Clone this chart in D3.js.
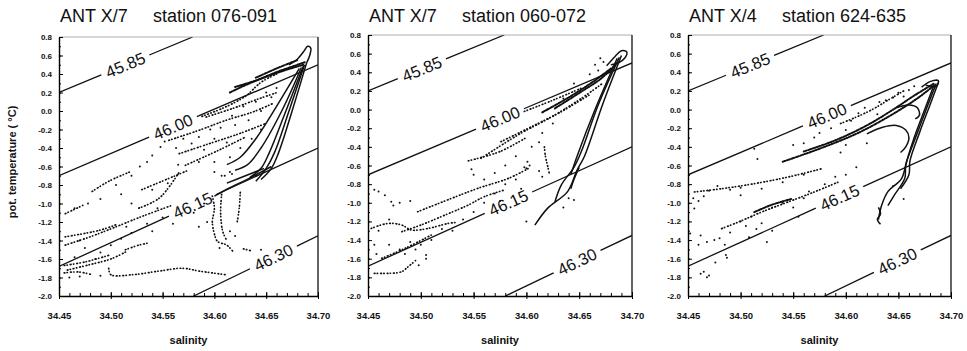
<!DOCTYPE html>
<html>
<head>
<meta charset="utf-8">
<script src="https://cdn.jsdelivr.net/npm/d3@7"></script>
<style>
  body { margin: 0; background: #fff; }
  svg text { font-family: "Liberation Sans", Arial, sans-serif; fill: #111; }
</style>
</head>
<body>
<svg id="chart" width="967" height="351"></svg>
<script>
// axis ranges and labels
var salDomain = [34.45, 34.70];
var tempDomain = [-2.0, 0.8];
var xTicks = [34.45, 34.50, 34.55, 34.60, 34.65, 34.70];
var yTicks = [-2.0, -1.8, -1.6, -1.4, -1.2, -1.0, -0.8, -0.6, -0.4, -0.2, 0.0, 0.2, 0.4, 0.6, 0.8];

var cruises = ["ANT X/7", "ANT X/7", "ANT X/4"];
var stations = ["station 076-091", "station 060-072", "station 624-635"];

// isopycnals (sigma-4), end points as [salinity, temperature]
var isoLevels = ["45.85", "46.00", "46.15", "46.30"];
var isoEnds = [
  [[34.45, 0.20], [34.579, 0.80]],
  [[34.45, -0.70], [34.70, 0.50]],
  [[34.45, -1.68], [34.70, -0.40]],
  [[34.58, -2.00], [34.70, -1.35]]
];
// where the label sits on each isopycnal (salinity), per panel
var isoLabelSal = [
  [34.514, 34.560, 34.579, 34.657],
  [34.501, 34.575, 34.583, 34.648],
  [34.509, 34.582, 34.594, 34.649]
];

// ---- panel 1: ANT X/7 station 076-091 ----
var p1Lines = [
  [[34.672,0.50],[34.680,0.56],[34.686,0.64],[34.690,0.70],[34.693,0.68],[34.692,0.60],[34.689,0.52]],
  [[34.689,0.52],[34.675,0.00],[34.662,-0.45],[34.655,-0.62],[34.645,-0.74]],
  [[34.687,0.50],[34.672,0.00],[34.658,-0.45],[34.650,-0.62],[34.640,-0.76]],
  [[34.686,0.49],[34.669,0.00],[34.653,-0.45],[34.645,-0.62],[34.634,-0.72]],
  [[34.684,0.47],[34.665,0.00],[34.645,-0.40],[34.632,-0.58],[34.620,-0.64]],
  [[34.682,0.46],[34.660,0.05],[34.640,-0.30],[34.625,-0.50],[34.612,-0.58]],
  [[34.655,-0.60],[34.635,-0.72],[34.615,-0.83],[34.600,-0.92]],
  [[34.648,-0.62],[34.630,-0.70],[34.612,-0.78]]
];
var p1Bands = [
  [[34.620,0.26],[34.640,0.33],[34.660,0.42],[34.675,0.48],[34.688,0.53]],
  [[34.615,0.20],[34.630,0.28],[34.650,0.37],[34.668,0.44],[34.686,0.50]],
  [[34.640,0.36],[34.660,0.46],[34.680,0.55]]
];
var p1Trails = [
  [[34.498,-1.70],[34.500,-1.77],[34.521,-1.77],[34.547,-1.73],[34.569,-1.70],[34.585,-1.73],[34.611,-1.77]],
  [[34.455,-1.75],[34.469,-1.74],[34.482,-1.77]],
  [[34.455,-1.67],[34.476,-1.63],[34.498,-1.56]],
  [[34.458,-1.72],[34.480,-1.66],[34.500,-1.60],[34.515,-1.52]],
  [[34.514,-1.50],[34.527,-1.45],[34.535,-1.43]],
  [[34.456,-1.45],[34.480,-1.36],[34.501,-1.27],[34.530,-1.14],[34.559,-1.02]],
  [[34.456,-1.36],[34.489,-1.29],[34.505,-1.23]],
  [[34.456,-1.11],[34.473,-1.02]],
  [[34.482,-0.87],[34.498,-0.76],[34.518,-0.66]],
  [[34.527,-1.05],[34.547,-0.94],[34.566,-0.66]],
  [[34.530,-0.85],[34.560,-0.71],[34.575,-0.64]],
  [[34.592,-0.065],[34.617,0.025],[34.643,0.133],[34.662,0.205]],
  [[34.556,-0.317],[34.585,-0.209],[34.611,-0.101],[34.637,-0.011],[34.656,0.079]],
  [[34.566,-0.461],[34.595,-0.353],[34.624,-0.245],[34.649,-0.137]],
  [[34.572,-0.587],[34.604,-0.425],[34.630,-0.281]],
  [[34.588,-0.058],[34.610,0.04],[34.630,0.16],[34.645,0.31],[34.660,0.40]],
  [[34.598,-0.92],[34.600,-1.05],[34.598,-1.20],[34.600,-1.33],[34.603,-1.41],[34.612,-1.45],[34.618,-1.52]],
  [[34.607,-0.90],[34.606,-1.10],[34.608,-1.30],[34.612,-1.40]],
  [[34.625,-0.88],[34.624,-1.05],[34.622,-1.20]],
  [[34.628,-1.49],[34.635,-1.51]]
];
var p1Dots = [
  [34.548,-0.39],[34.552,-0.33],[34.563,-0.40],[34.570,-0.30],[34.578,-0.35],[34.585,-0.28],[34.590,-0.42],
  [34.596,-0.20],[34.600,-0.30],[34.606,-0.18],[34.612,-0.34],[34.617,-0.05],[34.620,-0.15],[34.625,-0.40],
  [34.628,0.05],[34.633,-0.10],[34.636,-0.30],[34.640,0.10],[34.645,0.00],[34.650,0.20],[34.655,0.15],
  [34.645,-0.20],[34.660,0.25],[34.615,-0.50],[34.600,-0.55],[34.585,-0.55],[34.540,-0.48],[34.535,-0.55],
  [34.528,-0.60],[34.520,-0.70],[34.465,-1.05],[34.478,-1.00],[34.490,-0.95],[34.505,-0.80],[34.510,-0.90],
  [34.520,-1.00],[34.540,-0.85],[34.545,-1.05],[34.550,-1.15],[34.560,-1.22],[34.555,-0.78],[34.565,-0.58],
  [34.580,-1.10],[34.585,-1.25],[34.590,-1.00],[34.610,-0.70],[34.615,-0.66],[34.620,-1.35],[34.615,-1.30],
  [34.605,-1.48],[34.593,-1.20],[34.470,-1.40],[34.475,-1.48],[34.490,-1.53],[34.500,-1.45],[34.485,-1.60],
  [34.465,-1.58],[34.460,-1.80],[34.470,-1.79],[34.490,-1.78],[34.510,-1.38],[34.520,-1.32],[34.515,-1.25],
  [34.535,-1.22],[34.540,-1.30],[34.600,-0.66],[34.607,-0.70],[34.617,-0.68],[34.640,-0.70],[34.645,-1.50]
];

// ---- panel 2: ANT X/7 station 060-072 ----
var p2Lines = [
  [[34.676,0.47],[34.684,0.57],[34.690,0.63],[34.695,0.62],[34.693,0.55],[34.687,0.50],[34.680,0.48]],
  [[34.690,0.58],[34.672,0.05],[34.655,-0.50],[34.648,-0.65],[34.639,-0.88],[34.620,-1.06],[34.608,-1.24]],
  [[34.688,0.56],[34.668,0.05],[34.652,-0.45],[34.645,-0.62],[34.633,-0.81],[34.627,-0.99]],
  [[34.686,0.55],[34.665,0.00],[34.648,-0.50],[34.642,-0.70]],
  [[34.650,-0.62],[34.645,-0.75],[34.642,-0.85]]
];
var p2Bands = [
  [[34.627,0.013],[34.652,0.192],[34.671,0.335],[34.684,0.478]],
  [[34.615,-0.03],[34.640,0.13],[34.662,0.29],[34.680,0.44]]
];
var p2Trails = [
  [[34.557,-0.523],[34.592,-0.273],[34.627,-0.058],[34.652,0.12],[34.672,0.28]],
  [[34.576,-0.344],[34.608,-0.166],[34.633,-0.023],[34.660,0.16]],
  [[34.545,-0.55],[34.575,-0.45],[34.600,-0.30]],
  [[34.598,-0.02],[34.625,0.10],[34.652,0.23]],
  [[34.453,-1.275],[34.469,-1.221],[34.482,-1.239],[34.491,-1.292],[34.507,-1.275],[34.526,-1.221],[34.534,-1.21]],
  [[34.482,-1.31],[34.500,-1.239],[34.523,-1.131],[34.545,-1.024],[34.560,-0.935],[34.580,-0.86]],
  [[34.497,-1.096],[34.529,-0.953],[34.554,-0.845],[34.583,-0.738],[34.602,-0.631]],
  [[34.456,-1.757],[34.469,-1.757],[34.482,-1.739],[34.488,-1.686],[34.495,-1.62]],
  [[34.463,-1.596],[34.485,-1.489],[34.510,-1.346]],
  [[34.617,-0.40],[34.618,-0.50],[34.620,-0.60],[34.622,-0.70]]
];
var p2Dots = [
  [34.601,-0.56],[34.603,-0.60],[34.600,-0.63],[34.598,-0.62],[34.612,-0.66],[34.615,-0.72],[34.456,-0.86],
  [34.460,-0.88],[34.466,-0.92],[34.472,-0.99],[34.474,-1.03],[34.480,-1.00],[34.490,-0.98],[34.456,-1.45],
  [34.458,-1.55],[34.470,-1.45],[34.480,-1.50],[34.485,-1.55],[34.490,-1.42],[34.495,-1.50],[34.500,-1.45],
  [34.505,-1.56],[34.510,-1.40],[34.505,-1.60],[34.498,-1.67],[34.520,-1.28],[34.530,-1.30],[34.540,-1.18],
  [34.550,-1.10],[34.560,-1.00],[34.570,-0.90],[34.575,-0.98],[34.580,-0.80],[34.590,-0.75],[34.595,-0.85],
  [34.548,-0.64],[34.550,-0.70],[34.560,-0.75],[34.570,-0.68],[34.580,-0.60],[34.590,-0.50],[34.605,-0.40],
  [34.615,-0.25],[34.625,-0.15],[34.635,0.12],[34.645,0.28],[34.660,0.38],[34.668,0.42],[34.673,0.51],
  [34.670,0.55],[34.665,0.48],[34.620,0.00],[34.612,-0.35],[34.640,-0.95],[34.645,-0.97],[34.635,-1.05],
  [34.600,-1.20],[34.460,-1.30],[34.470,-1.18]
];

// ---- panel 3: ANT X/4 station 624-635 ----
var p3Lines = [
  [[34.648,0.02],[34.660,0.05],[34.668,0.02],[34.670,-0.06],[34.666,-0.10]],
  [[34.620,-0.26],[34.635,-0.19],[34.648,-0.17],[34.657,-0.22],[34.660,-0.30],[34.657,-0.40],[34.652,-0.46]],
  [[34.686,0.28],[34.678,0.05],[34.668,-0.25],[34.658,-0.55],[34.653,-0.74],[34.640,-0.88],[34.634,-1.03],[34.631,-1.18]],
  [[34.684,0.27],[34.675,0.00],[34.665,-0.30],[34.657,-0.60],[34.656,-0.74],[34.646,-0.92],[34.640,-1.03]],
  [[34.688,0.29],[34.680,0.05],[34.670,-0.25],[34.661,-0.55],[34.660,-0.70],[34.652,-0.85]],
  [[34.631,-1.05],[34.633,-1.12],[34.630,-1.18],[34.633,-1.23]],
  [[34.672,0.24],[34.680,0.30],[34.688,0.31],[34.686,0.25],[34.676,0.26]]
];
var p3Bands = [
  [[34.560,-0.45],[34.590,-0.33],[34.620,-0.17],[34.645,0.00],[34.665,0.15],[34.684,0.28]],
  [[34.540,-0.56],[34.575,-0.42],[34.610,-0.26],[34.640,-0.08],[34.668,0.12],[34.684,0.26]],
  [[34.513,-1.10],[34.530,-1.02],[34.548,-0.96]]
];
var p3Trails = [
  [[34.456,-0.884],[34.482,-0.849],[34.513,-0.795],[34.545,-0.724],[34.577,-0.635]],
  [[34.482,-1.277],[34.498,-1.206],[34.520,-1.099],[34.545,-0.992],[34.570,-0.884],[34.593,-0.777]],
  [[34.595,-0.15],[34.610,-0.08],[34.625,0.00],[34.640,0.10],[34.655,0.20]]
];
var p3Dots = [
  [34.513,-0.42],[34.516,-0.53],[34.586,-0.20],[34.600,-0.22],[34.605,-0.12],[34.612,-0.04],[34.618,0.02],
  [34.630,-0.05],[34.632,0.08],[34.638,0.10],[34.645,0.13],[34.650,0.18],[34.655,0.14],[34.660,0.21],
  [34.665,0.25],[34.570,-0.30],[34.575,-0.25],[34.550,-0.38],[34.560,-0.36],[34.600,-0.38],[34.595,-0.46],
  [34.620,-0.36],[34.655,-0.96],[34.645,-0.82],[34.455,-0.95],[34.460,-0.98],[34.465,-0.93],[34.470,-0.87],
  [34.478,-0.82],[34.490,-0.86],[34.500,-0.84],[34.456,-1.06],[34.452,-1.33],[34.462,-1.35],[34.468,-1.42],
  [34.475,-1.40],[34.480,-1.38],[34.485,-1.45],[34.490,-1.32],[34.460,-1.45],[34.465,-1.74],[34.470,-1.78],
  [34.468,-1.80],[34.462,-1.76],[34.476,-1.64],[34.486,-1.56],[34.487,-1.59],[34.500,-1.20],[34.505,-1.25],
  [34.510,-1.15],[34.515,-1.28],[34.520,-1.22],[34.530,-1.30],[34.525,-1.42],[34.508,-1.37],[34.530,-1.05],
  [34.540,-1.00],[34.550,-1.05],[34.560,-0.95],[34.565,-0.88],[34.555,-1.15],[34.580,-0.80],[34.590,-0.72],
  [34.600,-0.70],[34.610,-0.62],[34.500,-0.92],[34.520,-0.85],[34.540,-0.78],[34.560,-0.70]
];

var svg = d3.select("#chart");

// plot boxes in px
var frames = [
  {x0: 59, x1: 318, y0: 37, y1: 296},
  {x0: 368, x1: 632, y0: 35, y1: 296},
  {x0: 688, x1: 951, y0: 35, y1: 296}
];
var panels = [
  {lines: p1Lines, bands: p1Bands, trails: p1Trails, dots: p1Dots},
  {lines: p2Lines, bands: p2Bands, trails: p2Trails, dots: p2Dots},
  {lines: p3Lines, bands: p3Bands, trails: p3Trails, dots: p3Dots}
];

panels.forEach(function(p, i) {
  var f = frames[i];
  var x = d3.scaleLinear().domain(salDomain).range([f.x0, f.x1]);
  var y = d3.scaleLinear().domain(tempDomain).range([f.y1, f.y0]);
  var g = svg.append("g");

  g.append("clipPath").attr("id", "clip" + i).append("rect")
    .attr("x", f.x0).attr("y", f.y0)
    .attr("width", f.x1 - f.x0).attr("height", f.y1 - f.y0);
  var plot = g.append("g").attr("clip-path", "url(#clip" + i + ")");

  // isopycnals with a gap for the label
  isoEnds.forEach(function(e, k) {
    var ax = x(e[0][0]), ay = y(e[0][1]), bx = x(e[1][0]), by = y(e[1][1]);
    var len = Math.hypot(bx - ax, by - ay), ux = (bx - ax) / len, uy = (by - ay) / len;
    var s = isoLabelSal[i][k];
    var t = e[0][1] + (s - e[0][0]) * (e[1][1] - e[0][1]) / (e[1][0] - e[0][0]);
    var cx = x(s), cy = y(t), gap = 26;
    plot.append("line").attr("x1", ax).attr("y1", ay).attr("x2", cx - ux * gap).attr("y2", cy - uy * gap)
      .attr("stroke", "#111").attr("stroke-width", 1.3);
    plot.append("line").attr("x1", cx + ux * gap).attr("y1", cy + uy * gap).attr("x2", bx).attr("y2", by)
      .attr("stroke", "#111").attr("stroke-width", 1.3);
    var ang = Math.atan2(uy, ux) * 180 / Math.PI;
    g.append("text")
      .attr("transform", "translate(" + cx + "," + cy + ") rotate(" + ang + ")")
      .attr("text-anchor", "middle").attr("dy", "0.36em")
      .style("font-size", "16.5px")
      .text(isoLevels[k]);
  });

  var line = d3.line().x(function(d) { return x(d[0]); }).y(function(d) { return y(d[1]); })
    .curve(d3.curveCatmullRom);

  plot.selectAll(".trace").data(p.lines).enter().append("path")
    .attr("d", line).attr("fill", "none").attr("stroke", "#111").attr("stroke-width", 1.5);

  // dense CTD bands: heavy, closely spaced dots
  plot.selectAll(".band").data(p.bands).enter().append("path")
    .attr("d", line).attr("fill", "none").attr("stroke", "#111").attr("stroke-width", 2)
    .attr("stroke-linecap", "round").attr("stroke-dasharray", "1.4 1.1 0.6 1.6");

  plot.selectAll(".trail").data(p.trails).enter().append("path")
    .attr("d", line).attr("fill", "none").attr("stroke", "#111").attr("stroke-width", 1.7)
    .attr("stroke-linecap", "round").attr("stroke-dasharray", "0.7 2.4 0.3 3");

  plot.selectAll(".dot").data(p.dots).enter().append("circle")
    .attr("cx", function(d) { return x(d[0]); })
    .attr("cy", function(d) { return y(d[1]); })
    .attr("r", 1).attr("fill", "#111");

  // frame: faint top, solid right
  g.append("line").attr("x1", f.x0).attr("x2", f.x1).attr("y1", f.y0).attr("y2", f.y0)
    .attr("stroke", "#999").attr("stroke-width", 0.8);
  g.append("line").attr("x1", f.x1).attr("x2", f.x1).attr("y1", f.y0).attr("y2", f.y1)
    .attr("stroke", "#111").attr("stroke-width", 1.3);

  // y axis
  var yAxis = d3.axisLeft(y).tickValues(yTicks).tickSizeInner(-4).tickSizeOuter(0).tickPadding(7)
    .tickFormat(function(d) { return d.toFixed(1); });
  var ya = g.append("g").attr("transform", "translate(" + f.x0 + ",0)").call(yAxis);
  g.append("g").attr("transform", "translate(" + f.x0 + ",0)")
    .call(d3.axisLeft(y).tickValues(y.ticks(28)).tickSize(-2).tickFormat(""))
    .select(".domain").remove();
  ya.selectAll("text").style("font-size", "8px").style("font-weight", "bold");

  // x axis
  var xa = g.append("g").attr("transform", "translate(0," + f.y1 + ")")
    .call(d3.axisBottom(x).tickValues(xTicks).tickSizeInner(-4).tickSizeOuter(0).tickPadding(16)
      .tickFormat(function(d) { return d.toFixed(2); }));
  g.append("g").attr("transform", "translate(0," + f.y1 + ")")
    .call(d3.axisBottom(x).tickValues(x.ticks(25)).tickSize(-3).tickFormat(""))
    .select(".domain").remove();
  g.append("g").attr("transform", "translate(0," + f.y1 + ")")
    .call(d3.axisBottom(x).tickValues(xTicks).tickSize(3).tickFormat(""))
    .select(".domain").remove();
  xa.selectAll("text").style("font-size", "9.5px").style("font-weight", "bold");
  g.selectAll(".domain").attr("stroke-width", 1.4);

  // titles
  g.append("text").attr("x", f.x0 + 1).attr("y", 22).style("font-size", "18px").text(cruises[i]);
  g.append("text").attr("x", f.x0 + 94).attr("y", 22).style("font-size", "18px").text(stations[i]);
  g.append("text").attr("x", (f.x0 + f.x1) / 2).attr("y", 344).attr("text-anchor", "middle")
    .style("font-size", "11px").style("font-weight", "bold").text("salinity");
});

svg.append("text")
  .attr("transform", "translate(16,162) rotate(-90)")
  .attr("text-anchor", "middle")
  .style("font-size", "11px").style("font-weight", "bold")
  .text("pot. temperature ( \u00B0C)");
</script>
</body>
</html>
